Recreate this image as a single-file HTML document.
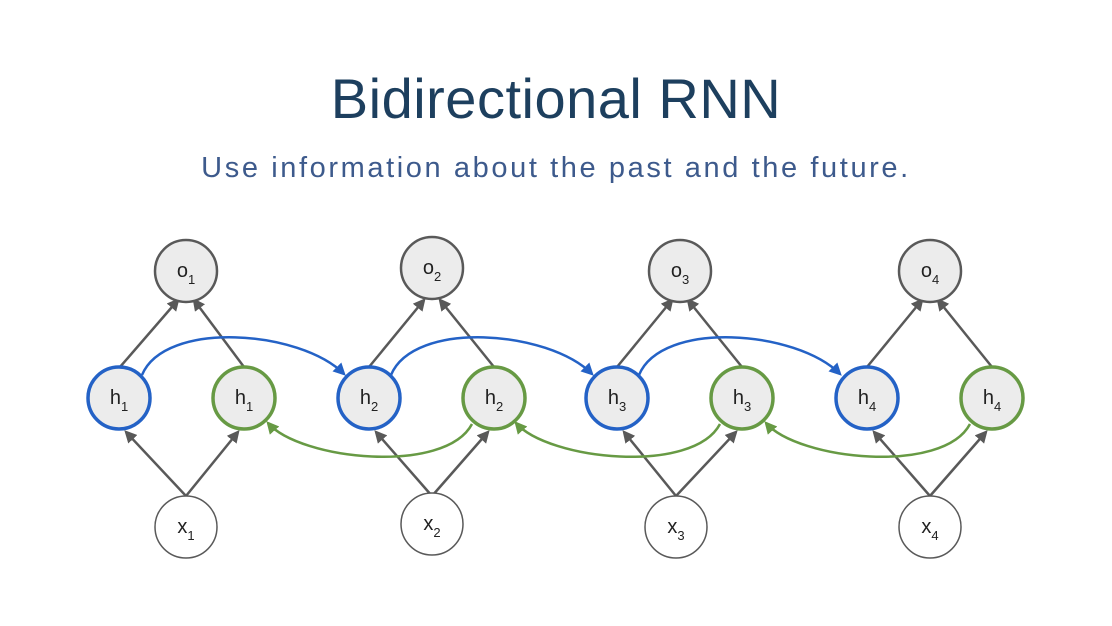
<!DOCTYPE html>
<html><head><meta charset="utf-8"><style>
body{margin:0;width:1112px;height:626px;background:#fff;overflow:hidden;font-family:"Liberation Sans",sans-serif}
.t{position:absolute;left:0;width:1112px;text-align:center}
</style></head><body>
<div class="t" style="top:66px;font-size:56px;color:#1d3f5e;letter-spacing:0.5px">Bidirectional RNN</div>
<div class="t" style="top:152px;font-size:29px;color:#3d5a8c;letter-spacing:2.6px">Use information about the past and the future.</div>
<svg width="1112" height="626" style="position:absolute;left:0;top:0" font-family="Liberation Sans, sans-serif">
<defs>
<marker id="g2" viewBox="0 0 10 10" refX="8" refY="5" markerWidth="5" markerHeight="5" orient="auto"><path d="M0,0L10,5L0,10z" fill="#595959"/></marker>
<marker id="b2" viewBox="0 0 10 10" refX="8" refY="5" markerWidth="5" markerHeight="5" orient="auto"><path d="M0,0L10,5L0,10z" fill="#2462c6"/></marker>
<marker id="gr2" viewBox="0 0 10 10" refX="8" refY="5" markerWidth="5" markerHeight="5" orient="auto"><path d="M0,0L10,5L0,10z" fill="#679a44"/></marker>
</defs>
<g stroke="#595959" stroke-width="2.5" fill="none">
<line x1="120" y1="367" x2="178" y2="300" marker-end="url(#g2)"/>
<line x1="244" y1="367" x2="194" y2="300" marker-end="url(#g2)"/>
<line x1="186" y1="496" x2="126" y2="432" marker-end="url(#g2)"/>
<line x1="186" y1="496" x2="238" y2="432" marker-end="url(#g2)"/>
<line x1="369" y1="367" x2="424" y2="300" marker-end="url(#g2)"/>
<line x1="494" y1="367" x2="440" y2="300" marker-end="url(#g2)"/>
<line x1="432" y1="496" x2="376" y2="432" marker-end="url(#g2)"/>
<line x1="432" y1="496" x2="488" y2="432" marker-end="url(#g2)"/>
<line x1="617" y1="367" x2="672" y2="300" marker-end="url(#g2)"/>
<line x1="742" y1="367" x2="688" y2="300" marker-end="url(#g2)"/>
<line x1="676" y1="496" x2="624" y2="432" marker-end="url(#g2)"/>
<line x1="676" y1="496" x2="736" y2="432" marker-end="url(#g2)"/>
<line x1="867" y1="367" x2="922" y2="300" marker-end="url(#g2)"/>
<line x1="992" y1="367" x2="938" y2="300" marker-end="url(#g2)"/>
<line x1="930" y1="496" x2="874" y2="432" marker-end="url(#g2)"/>
<line x1="930" y1="496" x2="986" y2="432" marker-end="url(#g2)"/>
</g>
<g stroke="#2462c6" stroke-width="2.5" fill="none">
<path d="M142,375 C165,320 300,330 344,374" marker-end="url(#b2)"/>
<path d="M391,375 C414,320 548,330 592,374" marker-end="url(#b2)"/>
<path d="M639,375 C662,320 796,330 840,374" marker-end="url(#b2)"/>
</g>
<g stroke="#679a44" stroke-width="2.5" fill="none">
<path d="M472,424 C445,475 300,460 268,423" marker-end="url(#gr2)"/>
<path d="M720,424 C693,475 548,460 516,423" marker-end="url(#gr2)"/>
<path d="M970,424 C943,475 798,460 766,423" marker-end="url(#gr2)"/>
</g>
<g stroke-width="2.5">
<circle cx="186" cy="271" r="31" fill="#ececec" stroke="#595959"/>
<circle cx="432" cy="268" r="31" fill="#ececec" stroke="#595959"/>
<circle cx="680" cy="271" r="31" fill="#ececec" stroke="#595959"/>
<circle cx="930" cy="271" r="31" fill="#ececec" stroke="#595959"/>
<circle cx="119" cy="398" r="31" fill="#ececec" stroke="#2462c6" stroke-width="3.5"/>
<circle cx="369" cy="398" r="31" fill="#ececec" stroke="#2462c6" stroke-width="3.5"/>
<circle cx="617" cy="398" r="31" fill="#ececec" stroke="#2462c6" stroke-width="3.5"/>
<circle cx="867" cy="398" r="31" fill="#ececec" stroke="#2462c6" stroke-width="3.5"/>
<circle cx="244" cy="398" r="31" fill="#ececec" stroke="#679a44" stroke-width="3.5"/>
<circle cx="494" cy="398" r="31" fill="#ececec" stroke="#679a44" stroke-width="3.5"/>
<circle cx="742" cy="398" r="31" fill="#ececec" stroke="#679a44" stroke-width="3.5"/>
<circle cx="992" cy="398" r="31" fill="#ececec" stroke="#679a44" stroke-width="3.5"/>
<circle cx="186" cy="527" r="31" fill="#fff" stroke="#595959" stroke-width="1.5"/>
<circle cx="432" cy="524" r="31" fill="#fff" stroke="#595959" stroke-width="1.5"/>
<circle cx="676" cy="527" r="31" fill="#fff" stroke="#595959" stroke-width="1.5"/>
<circle cx="930" cy="527" r="31" fill="#fff" stroke="#595959" stroke-width="1.5"/>
</g>
<g font-size="20" fill="#222" text-anchor="middle">
<text x="186" y="277">o<tspan font-size="13" dy="7">1</tspan></text>
<text x="432" y="274">o<tspan font-size="13" dy="7">2</tspan></text>
<text x="680" y="277">o<tspan font-size="13" dy="7">3</tspan></text>
<text x="930" y="277">o<tspan font-size="13" dy="7">4</tspan></text>
<text x="119" y="404">h<tspan font-size="13" dy="7">1</tspan></text>
<text x="244" y="404">h<tspan font-size="13" dy="7">1</tspan></text>
<text x="369" y="404">h<tspan font-size="13" dy="7">2</tspan></text>
<text x="494" y="404">h<tspan font-size="13" dy="7">2</tspan></text>
<text x="617" y="404">h<tspan font-size="13" dy="7">3</tspan></text>
<text x="742" y="404">h<tspan font-size="13" dy="7">3</tspan></text>
<text x="867" y="404">h<tspan font-size="13" dy="7">4</tspan></text>
<text x="992" y="404">h<tspan font-size="13" dy="7">4</tspan></text>
<text x="186" y="533">x<tspan font-size="13" dy="7">1</tspan></text>
<text x="432" y="530">x<tspan font-size="13" dy="7">2</tspan></text>
<text x="676" y="533">x<tspan font-size="13" dy="7">3</tspan></text>
<text x="930" y="533">x<tspan font-size="13" dy="7">4</tspan></text>
</g>
</svg>
</body></html>
